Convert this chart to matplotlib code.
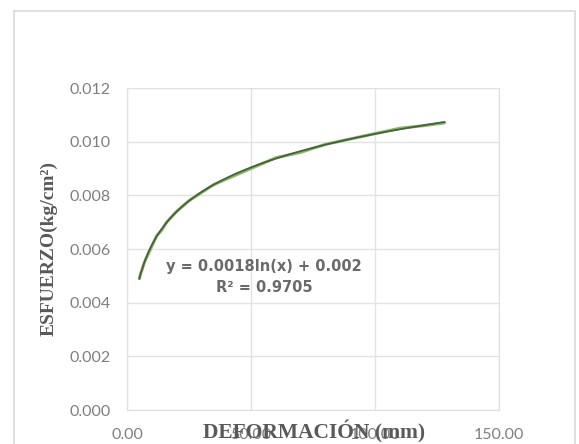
import numpy as np
import matplotlib
matplotlib.use('Agg')
import matplotlib.pyplot as plt
from matplotlib.patches import Rectangle

# data
deformacion = [5, 5.5, 6, 7, 8, 9, 10, 12, 14, 16, 18, 20, 25, 30, 35, 40, 50, 60, 70, 80, 90, 100, 110, 120, 128]
esfuerzo = [0.0049, 0.0051, 0.0052, 0.0055, 0.0057, 0.0059, 0.0061, 0.0065, 0.0067, 0.0070,
            0.0072, 0.0074, 0.0078, 0.0081, 0.0084, 0.0086, 0.0090, 0.0094, 0.0096, 0.0099,
            0.0101, 0.0103, 0.0105, 0.0106, 0.0107]

# logarithmic trendline shown on the chart
coef_a = 0.0018
coef_b = 0.002
r2 = 0.9705

x_ticks = [0, 50, 100, 150]
x_tick_labels = ['0.00', '50.00', '100.00', '150.00']
y_ticks = [0.000, 0.002, 0.004, 0.006, 0.008, 0.010, 0.012]
y_tick_labels = ['0.000', '0.002', '0.004', '0.006', '0.008', '0.010', '0.012']

W, H = 579, 444
fig = plt.figure(figsize=(W / 100, H / 100), dpi=100)

# outer chart border
fig.patches.append(Rectangle((14 / W, -0.01), (575 - 14) / W, 1 - 11 / H + 0.01,
                             transform=fig.transFigure, fill=False,
                             edgecolor='#d9d9d9', linewidth=1.2))

ax = fig.add_axes([127 / W, 1 - 410 / H, (499 - 127) / W, (410 - 88) / H])

ax.plot(deformacion, esfuerzo, color='#70a34a', linewidth=2.2, solid_capstyle='round', alpha=0.8)
xt = np.linspace(min(deformacion), max(deformacion), 300)
ax.plot(xt, coef_a * np.log(xt) + coef_b, color='#46623a', linewidth=1.3)

ax.set_xlim(0, 150)
ax.set_ylim(0, 0.012)
ax.set_xticks(x_ticks)
ax.set_xticklabels(x_tick_labels)
ax.set_yticks(y_ticks)
ax.set_yticklabels(y_tick_labels)
ax.tick_params(length=0, colors='#7f7f7f', labelsize=11.5)
for lab in ax.get_xticklabels() + ax.get_yticklabels():
    lab.set_family('Lato')
ax.tick_params(axis='x', pad=13)
ax.tick_params(axis='y', pad=12)

ax.grid(True, color='#e3e3e3', linewidth=1)
for s in ax.spines.values():
    s.set_color('#e0e0e0')
ax.set_axisbelow(True)

ax.set_ylabel('ESFUERZO(kg/cm²)', fontsize=14, fontweight='bold', family='Liberation Serif',
              color='#595959', labelpad=8)
fig.text(314 / W, 6 / H, 'DEFORMACIÓN (mm)', fontsize=15.5, fontweight='bold',
         family='Liberation Serif', color='#595959', ha='center', va='baseline')

ax.text(55, 0.00534, 'y = 0.0018ln(x) + 0.002', fontsize=10.5, fontweight='bold',
        family='DejaVu Sans', color='#6a6a6a', ha='center', va='center')
ax.text(55.5, 0.00455, f'R² = {r2}', fontsize=10.5, fontweight='bold',
        family='DejaVu Sans', color='#6a6a6a', ha='center', va='center')

fig.savefig('out.png', dpi=100)
